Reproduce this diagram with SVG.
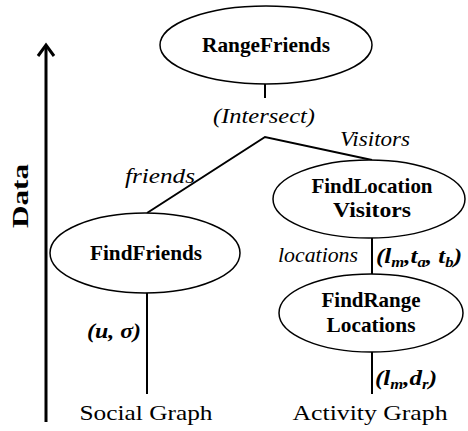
<svg xmlns="http://www.w3.org/2000/svg" width="468" height="431" viewBox="0 0 468 431">
<style>
text{font-family:"Times New Roman","Liberation Serif","Noto Serif","DejaVu Serif",Times,serif;fill:#000}
.node ellipse{fill:#fff;stroke:#000;stroke-width:1.5}
.nl{font-weight:bold;font-size:21px;text-anchor:middle}
.lbl{font-style:italic;font-size:21px}
.math{font-style:italic;font-weight:bold;font-size:21px}
.base{font-size:22px;text-anchor:middle}
.conn line,.conn polyline{stroke:#000;stroke-width:2;fill:none}
</style>
<rect width="468" height="431" fill="#fff"/>
<g id="axis">
<line x1="46" y1="46" x2="46" y2="422" stroke="#000" stroke-width="3"/>
<polyline points="38,56 46,45 54,56" fill="none" stroke="#000" stroke-width="3"/>
<text transform="translate(28,196) rotate(-90)" font-weight="bold" font-size="23" text-anchor="middle" textLength="64" lengthAdjust="spacingAndGlyphs">Data</text>
</g>
<g id="connectors" class="conn">
<line x1="265" y1="84" x2="265" y2="98"/>
<polyline points="147,213 265,137 372,160"/>
<line x1="147" y1="293" x2="147" y2="394"/>
<line x1="372" y1="238" x2="372" y2="275"/>
<line x1="372" y1="352" x2="372" y2="394"/>
</g>
<g id="RangeFriends" class="node">
<ellipse cx="266" cy="45" rx="106" ry="39"/>
<text class="nl" x="266" y="52" textLength="128" lengthAdjust="spacingAndGlyphs">RangeFriends</text>
</g>
<g id="FindLocationVisitors" class="node">
<ellipse cx="369" cy="199" rx="96" ry="39"/>
<text class="nl" x="372" y="193" textLength="121" lengthAdjust="spacingAndGlyphs">FindLocation</text>
<text class="nl" x="372" y="217" textLength="78" lengthAdjust="spacingAndGlyphs">Visitors</text>
</g>
<g id="FindFriends" class="node">
<ellipse cx="145" cy="253" rx="95" ry="40"/>
<text class="nl" x="146" y="260" textLength="112" lengthAdjust="spacingAndGlyphs">FindFriends</text>
</g>
<g id="FindRangeLocations" class="node">
<ellipse cx="371" cy="313" rx="92" ry="39"/>
<text class="nl" x="371" y="307" textLength="99" lengthAdjust="spacingAndGlyphs">FindRange</text>
<text class="nl" x="371" y="332" textLength="89" lengthAdjust="spacingAndGlyphs">Locations</text>
</g>
<g id="labels">
<text class="lbl" x="264" y="123" text-anchor="middle" textLength="102" lengthAdjust="spacingAndGlyphs">(Intersect)</text>
<text class="lbl" x="340" y="146" textLength="70" lengthAdjust="spacingAndGlyphs">Visitors</text>
<text class="lbl" x="125" y="183" textLength="70" lengthAdjust="spacingAndGlyphs">friends</text>
<text class="lbl" x="278" y="262" textLength="80" lengthAdjust="spacingAndGlyphs">locations</text>
<text class="math" x="376" y="263" textLength="86" lengthAdjust="spacingAndGlyphs">(<tspan>l</tspan><tspan font-size="14" dy="4">m</tspan><tspan dy="-4">,t</tspan><tspan font-size="14" dy="4">a</tspan><tspan dy="-4">, t</tspan><tspan font-size="14" dy="4">b</tspan><tspan dy="-4">)</tspan></text>
<text class="math" x="87" y="338" textLength="54" lengthAdjust="spacingAndGlyphs">(u, σ)</text>
<text class="math" x="375" y="385" textLength="62" lengthAdjust="spacingAndGlyphs">(<tspan>l</tspan><tspan font-size="14" dy="4">m</tspan><tspan dy="-4">,d</tspan><tspan font-size="14" dy="4">r</tspan><tspan dy="-4">)</tspan></text>
</g>
<g id="bases">
<text class="base" x="146" y="420" textLength="133" lengthAdjust="spacingAndGlyphs">Social Graph</text>
<text class="base" x="370" y="420" textLength="155" lengthAdjust="spacingAndGlyphs">Activity Graph</text>
</g>
</svg>
